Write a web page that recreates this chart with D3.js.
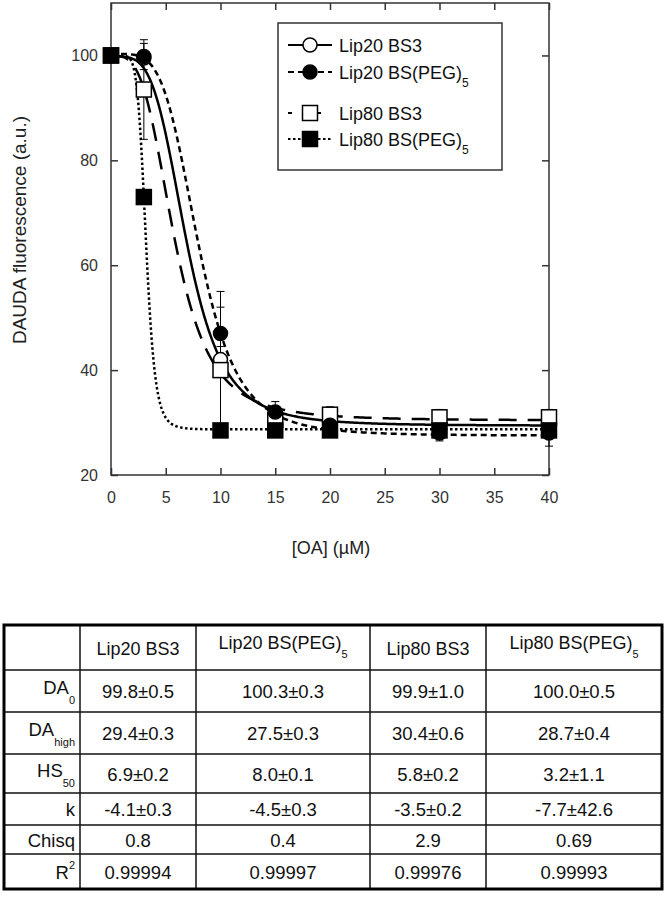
<!DOCTYPE html>
<html lang="en">
<head>
<meta charset="utf-8">
<title>DAUDA fluorescence vs OA</title>
<script src="https://d3js.org/d3.v7.min.js"></script>
<style>
  body { margin: 0; background: #fff; }
  svg text { font-family: "Liberation Sans", Arial, sans-serif; }
</style>
</head>
<body>
<div id="chart"></div>
<script>
// OA concentration (uM)
var oa = [0, 3, 10, 15, 20, 30, 40]

var names = ["Lip20 BS3", "Lip20 BS(PEG)", "Lip80 BS3", "Lip80 BS(PEG)"]
var nameSubs = ["", "5", "", "5"]

var lip20bs3 = [100, 99.5, 42, 31.5, 30.5, 29.5, 29.5]
var lip20peg = [100, 99.8, 47, 32, 29.5, 28, 28]
var lip80bs3 = [100, 93.5, 40, 30.5, 31.5, 31, 31]
var lip80peg = [100, 73, 28.5, 28.5, 28.5, 28.5, 28.5]

var err20bs3 = [0, 1, 2.5, 1, 1, 1, 1]
var err20peg = [0, 2.5, 8, 2, 1.5, 1.5, 2.5]
var err80bs3 = [0, 9.5, 12, 1.5, 1.5, 1.5, 1.5]
var err80peg = [0, 0.5, 0.5, 0.5, 0.5, 0.5, 0.5]

// fit parameters shown in the table
var da0 = [99.8, 100.3, 99.9, 100.0]
var da0Err = [0.5, 0.3, 1.0, 0.5]
var daHigh = [29.4, 27.5, 30.4, 28.7]
var daHighErr = [0.3, 0.3, 0.6, 0.4]
var hs50 = [6.9, 8.0, 5.8, 3.2]
var hs50Err = [0.2, 0.1, 0.2, 1.1]
var kFit = [-4.1, -4.5, -3.5, -7.7]
var kErr = [0.3, 0.3, 0.2, 42.6]
var chisq = ["0.8", "0.4", "2.9", "0.69"]
var r2 = ["0.99994", "0.99997", "0.99976", "0.99993"]

var xTicks = [0, 5, 10, 15, 20, 25, 30, 35, 40]
var yTicks = [20, 40, 60, 80, 100]

var w = 666
var h = 898
var plotL = 111, plotR = 549, plotT = 3, plotB = 475

var svg = d3.select("#chart")
	.append("svg")
	.attr("width", w)
	.attr("height", h)

var xScale = d3.scaleLinear().domain([0, 40]).range([plotL, plotR])
var yScale = d3.scaleLinear().domain([20, 110]).range([plotB, plotT])

// series styling
var series = [
	{ y: lip20bs3, e: err20bs3, dash: null, shape: "circle", fill: "#fff" },
	{ y: lip20peg, e: err20peg, dash: "6,4", shape: "circle", fill: "#000" },
	{ y: lip80bs3, e: err80bs3, dash: "18,11", shape: "square", fill: "#fff" },
	{ y: lip80peg, e: err80peg, dash: "2.5,2.5", shape: "square", fill: "#000" }
]

// frame
svg.append("rect")
	.attr("x", plotL).attr("y", plotT)
	.attr("width", plotR - plotL).attr("height", plotB - plotT)
	.attr("fill", "none").attr("stroke", "#333").attr("stroke-width", 1.5)

function styleAxis(g) {
	g.select(".domain").remove()
	g.selectAll("line").attr("stroke", "#333").attr("stroke-width", 1.5)
	g.selectAll("text").attr("font-size", 16).attr("fill", "#333")
		.attr("font-family", "Liberation Sans, Arial, sans-serif")
}

svg.append("g")
	.attr("transform", "translate(0," + plotB + ")")
	.call(d3.axisBottom(xScale).tickValues(xTicks).tickSizeInner(-7).tickSizeOuter(0).tickPadding(17))
	.call(styleAxis)

svg.append("g")
	.attr("transform", "translate(0," + plotT + ")")
	.call(d3.axisTop(xScale).tickValues(xTicks).tickSizeInner(-7).tickSizeOuter(0).tickFormat(""))
	.call(styleAxis)

svg.append("g")
	.attr("transform", "translate(" + plotL + ",0)")
	.call(d3.axisLeft(yScale).tickValues(yTicks).tickSizeInner(-7).tickSizeOuter(0).tickPadding(13))
	.call(styleAxis)

svg.append("g")
	.attr("transform", "translate(" + plotR + ",0)")
	.call(d3.axisRight(yScale).tickValues(yTicks).tickSizeInner(-7).tickSizeOuter(0).tickFormat(""))
	.call(styleAxis)

// axis titles
svg.append("text")
	.attr("x", 331).attr("y", 554)
	.attr("text-anchor", "middle")
	.attr("font-size", 18).attr("fill", "#222")
	.text("[OA] (\u00b5M)")

svg.append("text")
	.attr("transform", "translate(26,230) rotate(-90)")
	.attr("text-anchor", "middle")
	.attr("font-size", 19).attr("fill", "#222")
	.text("DAUDA fluorescence (a.u.)")

// fitted curves: DA = DAhigh + (DA0 - DAhigh) / (1 + (x/HS50)^-k)
var xs = d3.range(0, 40.001, 0.1)
var line = d3.line()
	.x(function(d) { return xScale(d[0]) })
	.y(function(d) { return yScale(d[1]) })

series.forEach(function(s, i) {
	var pts = xs.map(function(x) {
		return [x, daHigh[i] + (da0[i] - daHigh[i]) / (1 + Math.pow(x / hs50[i], -kFit[i]))]
	})
	svg.append("path")
		.datum(pts)
		.attr("d", line)
		.attr("fill", "none")
		.attr("stroke", "#000")
		.attr("stroke-width", 2.5)
		.attr("stroke-dasharray", s.dash)
})

// error bars
series.forEach(function(s) {
	var g = svg.append("g").attr("stroke", "#000").attr("stroke-width", 1)
	oa.forEach(function(x, j) {
		if (!s.e[j]) return
		var cx = xScale(x)
		var y1 = yScale(s.y[j] + s.e[j]), y2 = yScale(s.y[j] - s.e[j])
		g.append("line").attr("x1", cx).attr("x2", cx).attr("y1", y1).attr("y2", y2)
		g.append("line").attr("x1", cx - 4).attr("x2", cx + 4).attr("y1", y1).attr("y2", y1)
		g.append("line").attr("x1", cx - 4).attr("x2", cx + 4).attr("y1", y2).attr("y2", y2)
	})
})

function drawMarker(g, shape, fill, cx, cy) {
	if (shape == "circle") {
		g.append("circle").attr("cx", cx).attr("cy", cy).attr("r", 7)
			.attr("fill", fill).attr("stroke", "#000").attr("stroke-width", 1.5)
	} else {
		g.append("rect").attr("x", cx - 7.5).attr("y", cy - 7.5)
			.attr("width", 15).attr("height", 15)
			.attr("fill", fill).attr("stroke", "#000").attr("stroke-width", 1.5)
	}
}

// markers: open symbols first, filled ones on top
;[0, 2, 1, 3].forEach(function(i) {
	var s = series[i]
	var g = svg.append("g")
	oa.forEach(function(x, j) {
		drawMarker(g, s.shape, s.fill, xScale(x), yScale(s.y[j]))
	})
})

// legend
var legend = svg.append("g")
legend.append("rect")
	.attr("x", 278).attr("y", 23).attr("width", 224).attr("height", 147)
	.attr("fill", "#fff").attr("stroke", "#333").attr("stroke-width", 1.5)

var legendY = [45, 72, 113, 139]
series.forEach(function(s, i) {
	var ly = legendY[i]
	legend.append("line")
		.attr("x1", 288).attr("x2", 332).attr("y1", ly).attr("y2", ly)
		.attr("stroke", "#000").attr("stroke-width", 2)
		.attr("stroke-dasharray", s.dash)
		.attr("stroke-dashoffset", i == 2 ? 14 : 0)
	drawMarker(legend, s.shape, s.fill, 310, ly)
	var t = legend.append("text")
		.attr("x", 339).attr("y", ly + 7)
		.attr("font-size", 18).attr("fill", "#111")
		.text(names[i])
	if (nameSubs[i]) {
		t.append("tspan").attr("dy", 8).attr("font-size", 12).text(nameSubs[i])
	}
})

// parameter table
var colEdges = [4, 80, 196, 370, 486, 662]
var rowEdges = [625, 670, 712, 754, 793, 825, 854, 889]

var rowLabels = [
	{ t: "DA", sub: "0" },
	{ t: "DA", sub: "high" },
	{ t: "HS", sub: "50" },
	{ t: "k" },
	{ t: "Chisq" },
	{ t: "R", sup: "2" }
]

function pm(v, e) { return v.toFixed(1) + "\u00b1" + e.toFixed(1) }
var rows = [
	da0.map(function(v, i) { return pm(v, da0Err[i]) }),
	daHigh.map(function(v, i) { return pm(v, daHighErr[i]) }),
	hs50.map(function(v, i) { return pm(v, hs50Err[i]) }),
	kFit.map(function(v, i) { return pm(v, kErr[i]) }),
	chisq,
	r2
]

var tbl = svg.append("g")

// inner grid
colEdges.slice(1, -1).forEach(function(cx) {
	tbl.append("line").attr("x1", cx).attr("x2", cx)
		.attr("y1", rowEdges[0]).attr("y2", rowEdges[rowEdges.length - 1])
		.attr("stroke", "#111").attr("stroke-width", 1.5)
})
rowEdges.slice(1, -1).forEach(function(ry) {
	tbl.append("line").attr("x1", colEdges[0]).attr("x2", colEdges[colEdges.length - 1])
		.attr("y1", ry).attr("y2", ry)
		.attr("stroke", "#111").attr("stroke-width", 1.5)
})
tbl.append("rect")
	.attr("x", colEdges[0]).attr("y", rowEdges[0])
	.attr("width", colEdges[colEdges.length - 1] - colEdges[0])
	.attr("height", rowEdges[rowEdges.length - 1] - rowEdges[0])
	.attr("fill", "none").attr("stroke", "#000").attr("stroke-width", 3)

// header
names.forEach(function(n, i) {
	var cx = (colEdges[i + 1] + colEdges[i + 2]) / 2
	var t = tbl.append("text")
		.attr("x", cx).attr("y", nameSubs[i] ? 649 : 655)
		.attr("text-anchor", "middle")
		.attr("font-size", 18).attr("fill", "#111")
		.text(n)
	if (nameSubs[i]) t.append("tspan").attr("dy", 9).attr("font-size", 11).text(nameSubs[i])
})

// body
rows.forEach(function(r, ri) {
	var cy = (rowEdges[ri + 1] + rowEdges[ri + 2]) / 2
	var lab = rowLabels[ri]
	var t = tbl.append("text")
		.attr("x", colEdges[1] - 5).attr("y", cy + (lab.sub ? 3 : 7))
		.attr("text-anchor", "end")
		.attr("font-size", 18.5).attr("fill", "#111")
		.text(lab.t)
	if (lab.sub) t.append("tspan").attr("dy", 10).attr("font-size", 11).text(lab.sub)
	if (lab.sup) t.append("tspan").attr("dy", -10).attr("font-size", 11).text(lab.sup)
	r.forEach(function(v, ci) {
		tbl.append("text")
			.attr("x", (colEdges[ci + 1] + colEdges[ci + 2]) / 2)
			.attr("y", cy + 7)
			.attr("text-anchor", "middle")
			.attr("font-size", 18.5).attr("fill", "#111")
			.text(v)
	})
})
</script>
</body>
</html>
